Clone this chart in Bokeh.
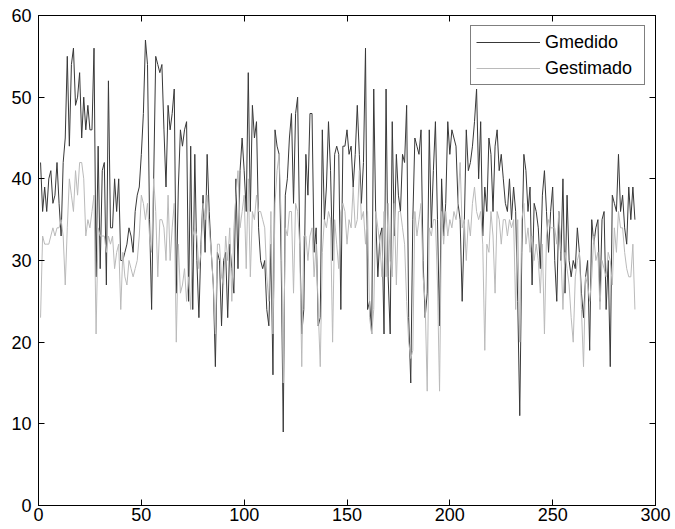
from bokeh.plotting import figure
from bokeh.models import LinearAxis, FixedTicker, Legend, LegendItem, Range1d, ColumnDataSource
from bokeh.embed import file_html
from bokeh.resources import INLINE

# Sample index
sample = list(range(1, 291))

gmedido = [
    42, 36, 39, 36, 40, 41, 37, 38, 42, 37,
    33, 42, 45, 55, 44, 54, 56, 49, 50, 53,
    45, 50, 46, 49, 46, 46, 56, 28, 44, 29,
    41, 42, 27, 52, 34, 34, 40, 36, 40, 30,
    30, 31, 32, 34, 33, 31, 36, 38, 39, 43,
    48, 57, 54, 35, 24, 40, 55, 54, 53, 54,
    46, 39, 49, 46, 48, 51, 26, 39, 46, 44,
    46, 47, 25, 44, 24, 43, 30, 23, 32, 38,
    31, 43, 36, 31, 27, 17, 31, 30, 22, 30,
    31, 23, 32, 29, 26, 40, 29, 41, 45, 41,
    36, 53, 36, 49, 45, 47, 34, 30, 29, 30,
    24, 22, 32, 16, 46, 44, 43, 30, 9, 38,
    40, 45, 48, 37, 48, 50, 33, 21, 24, 43,
    38, 48, 48, 31, 34, 22, 23, 46, 35, 39,
    47, 41, 30, 43, 44, 43, 24, 44, 44, 46,
    43, 44, 39, 43, 49, 43, 37, 42, 56, 24,
    25, 21, 51, 35, 28, 33, 34, 21, 51, 28,
    21, 47, 33, 43, 38, 36, 43, 42, 49, 23,
    15, 35, 45, 44, 43, 46, 30, 23, 26, 46,
    34, 41, 47, 35, 22, 40, 33, 37, 47, 43,
    46, 45, 44, 37, 35, 25, 34, 46, 41, 42,
    44, 47, 51, 40, 47, 33, 39, 36, 45, 43,
    36, 44, 46, 41, 43, 40, 37, 36, 40, 35,
    39, 36, 25, 11, 31, 43, 41, 36, 39, 27,
    37, 36, 34, 29, 38, 41, 36, 31, 36, 39,
    30, 25, 36, 30, 40, 26, 38, 30, 28, 30,
    29, 34, 31, 26, 23, 28, 30, 19, 35, 32,
    34, 35, 25, 35, 36, 24, 30, 17, 38, 37,
    36, 43, 36, 38, 34, 32, 39, 35, 39, 35,
]

# Gestimado (estimated)
gestimado = [
    23, 33, 32, 32, 32, 33, 34, 33, 34, 34,
    35, 33, 27, 34, 40, 38, 36, 41, 38, 42,
    42, 40, 33, 35, 34, 36, 38, 21, 34, 33,
    33, 33, 31, 33, 32, 33, 29, 31, 32, 24,
    31, 28, 27, 30, 29, 28, 29, 30, 33, 38,
    37, 35, 37, 33, 31, 40, 36, 28, 35, 35,
    34, 30, 38, 30, 34, 37, 20, 32, 26, 27,
    29, 25, 28, 24, 33, 34, 33, 29, 31, 37,
    35, 38, 34, 31, 27, 21, 32, 32, 28, 27,
    33, 30, 34, 25, 34, 38, 41, 34, 36, 38,
    29, 40, 28, 36, 35, 38, 36, 36, 35, 34,
    28, 25, 36, 21, 37, 41, 43, 35, 15, 34,
    33, 36, 36, 26, 37, 36, 32, 17, 33, 33,
    30, 33, 34, 28, 32, 24, 17, 31, 35, 34,
    36, 35, 20, 35, 32, 29, 36, 37, 36, 32,
    35, 34, 39, 34, 35, 41, 35, 36, 32, 36,
    23, 21, 24, 36, 34, 32, 28, 36, 28, 37,
    30, 28, 37, 27, 36, 36, 34, 32, 25, 20,
    18, 19, 36, 33, 35, 37, 28, 25, 14, 34,
    33, 35, 35, 27, 14, 36, 32, 36, 33, 35,
    34, 36, 35, 37, 42, 34, 35, 30, 35, 33,
    37, 39, 36, 35, 36, 32, 19, 32, 31, 36,
    33, 26, 36, 35, 32, 35, 35, 33, 35, 34,
    35, 24, 35, 20, 35, 37, 32, 34, 31, 33,
    30, 32, 30, 26, 32, 21, 33, 35, 34, 34,
    34, 32, 36, 31, 24, 31, 29, 27, 23, 20,
    28, 30, 31, 24, 17, 28, 27, 25, 28, 33,
    30, 31, 24, 30, 29, 28, 31, 30, 27, 34,
    31, 36, 34, 34, 31, 29, 28, 28, 32, 24,
]

x_ticks = [0, 50, 100, 150, 200, 250, 300]
y_ticks = [0, 10, 20, 30, 40, 50, 60]
series_labels = ["Gmedido", "Gestimado"]

FONT = "Liberation Sans"

p = figure(width=675, height=529, output_backend="svg", toolbar_location=None,
           x_range=Range1d(0, 300), y_range=Range1d(0, 60),
           min_border_left=38, min_border_right=20, min_border_top=15, min_border_bottom=24)
p.background_fill_color = "white"
p.border_fill_color = "white"
p.outline_line_color = "black"
p.outline_line_width = 1
p.grid.visible = False


def style_axis(ax, ticks, labels=True):
    ax.ticker = FixedTicker(ticks=ticks)
    ax.major_tick_in = 6
    ax.major_tick_out = 0
    ax.minor_tick_line_color = None
    ax.axis_line_color = "black"
    ax.major_tick_line_color = "black"
    ax.major_label_text_font = FONT
    ax.major_label_text_color = "black"
    ax.major_label_text_font_size = "18px"
    if not labels:
        ax.major_label_overrides = {t: "" for t in ticks}
        ax.major_label_standoff = 0


style_axis(p.xaxis[0], x_ticks)
p.xaxis[0].major_label_standoff = 2
style_axis(p.yaxis[0], y_ticks)
p.yaxis[0].major_label_standoff = 7

top_axis = LinearAxis()
style_axis(top_axis, x_ticks, labels=False)
p.add_layout(top_axis, "above")
right_axis = LinearAxis()
style_axis(right_axis, y_ticks, labels=False)
p.add_layout(right_axis, "right")

src = ColumnDataSource(data=dict(x=sample, gm=gmedido, ge=gestimado))
r1 = p.line("x", "gm", source=src, line_color="#383838", line_width=1)
r2 = p.line("x", "ge", source=src, line_color="#bababa", line_width=1)

legend = Legend(items=[LegendItem(label=series_labels[0], renderers=[r1]),
                       LegendItem(label=series_labels[1], renderers=[r2])],
                location=(432, 420),
                border_line_color="black", border_line_width=1,
                background_fill_color="white", background_fill_alpha=1,
                label_text_font=FONT, label_text_font_size="18px",
                label_text_color="black",
                padding=5, spacing=4, margin=0,
                glyph_width=64, glyph_height=22, label_height=22,
                label_width=94, label_standoff=5)
p.add_layout(legend)

open("out.html", "w").write(file_html(p, INLINE))
